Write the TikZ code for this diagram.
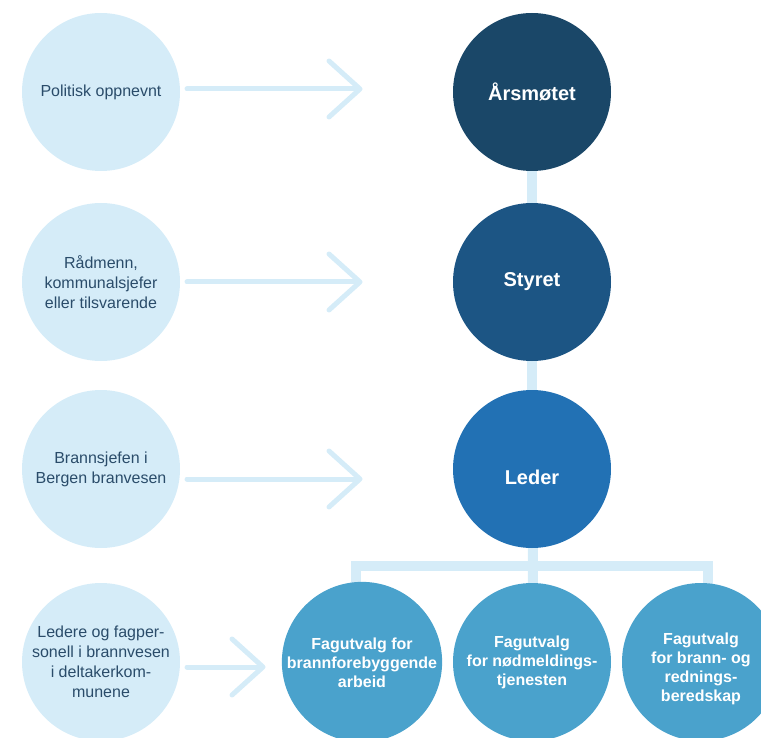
\documentclass[tikz,border=0pt]{standalone}
\usepackage{fontspec}
\setmainfont{Liberation Sans}
\usetikzlibrary{backgrounds,calc}
\definecolor{lightc}{RGB}{213,236,248}
\definecolor{ltext}{RGB}{42,76,106}
\definecolor{cA}{RGB}{26,71,104}
\definecolor{cS}{RGB}{28,85,132}
\definecolor{cL}{RGB}{34,113,180}
\definecolor{cF}{RGB}{74,162,204}
\tikzset{
  lightcirc/.style={circle,fill=lightc,inner sep=0pt,minimum size=158pt,align=center,text=ltext,
    font=\fontsize{16}{20}\selectfont},
  orgcirc/.style={circle,inner sep=0pt,minimum size=158pt,align=center,text=white,
    font=\fontsize{20}{24}\selectfont\bfseries},
  subcirc/.style={circle,fill=cF,inner sep=0pt,minimum size=158pt,align=center,text=white,
    font=\fontsize{16}{19}\selectfont\bfseries},
  conn/.style={draw=lightc,line width=10pt},
  arrline/.style={draw=lightc,line width=5pt,line cap=round,line join=round},
}
\begin{document}
\begin{tikzpicture}[x=1pt,y=-1pt]
\useasboundingbox (0,0) rectangle (761,738);
\clip (0,0) rectangle (761,738);
% left circles
\node[lightcirc] (L1) at (101,92) {Politisk oppnevnt};
\node[lightcirc] (L2) at (101,282) {Rådmenn,\\kommunalsjefer\\eller tilsvarende};
\node[lightcirc] (L3) at (101,469) {Brannsjefen i\\Bergen branvesen};
\node[lightcirc] (L4) at (101,662) {Ledere og fagper-\\sonell i brannvesen\\i deltakerkom-\\munene};
% organisation circles
\node[orgcirc,fill=cA] (A) at (532,92) {Årsmøtet};
\node[orgcirc,fill=cS] (S) at (532,282) {Styret};
\node[orgcirc,fill=cL] (Le) at (532,469) {\raisebox{-8pt}[\height][\depth]{Leder}};
\node[subcirc] (F1) at (362,662) {\raisebox{-3pt}[\height][\depth]{\begin{tabular}{@{}c@{}}Fagutvalg for\\brannforebyggende\\arbeid\end{tabular}}};
\node[subcirc] (F2) at (532,662) {Fagutvalg\\for nødmeldings-\\tjenesten};
\node[subcirc] (F3) at (701,662) {\raisebox{-7pt}[\height][\depth]{\begin{tabular}{@{}c@{}}Fagutvalg\\for brann- og\\rednings-\\beredskap\end{tabular}}};
% connectors behind
\coordinate (bar) at (533,566);
\coordinate (c1) at (356,566);
\coordinate (c3) at (708,566);
\begin{scope}[on background layer]
  \draw[conn] (A) -- (S);
  \draw[conn] (S) -- (Le);
  \draw[conn] (Le) -- (bar);
  \draw[conn] (bar) -- (F2);
  \draw[conn] (c1 |- F1.north) ++(0,20) -- (c1) -- (c3) -- ++(0,37);
\end{scope}
% arrows
\coordinate (s1) at (187,89);  \coordinate (t1) at (360,89);
\coordinate (s2) at (187,282); \coordinate (t2) at (360,282);
\coordinate (s3) at (187,479); \coordinate (t3) at (360,479);
\coordinate (s4) at (187,667); \coordinate (t4) at (263,667);
\foreach \i in {1,2,3,4}{
  \draw[arrline] (s\i) -- ($(t\i)+(-2,0)$);
  \draw[arrline] ($(t\i)+(-31,-28)$) -- (t\i) -- ($(t\i)+(-31,28)$);
}
\end{tikzpicture}
\end{document}
